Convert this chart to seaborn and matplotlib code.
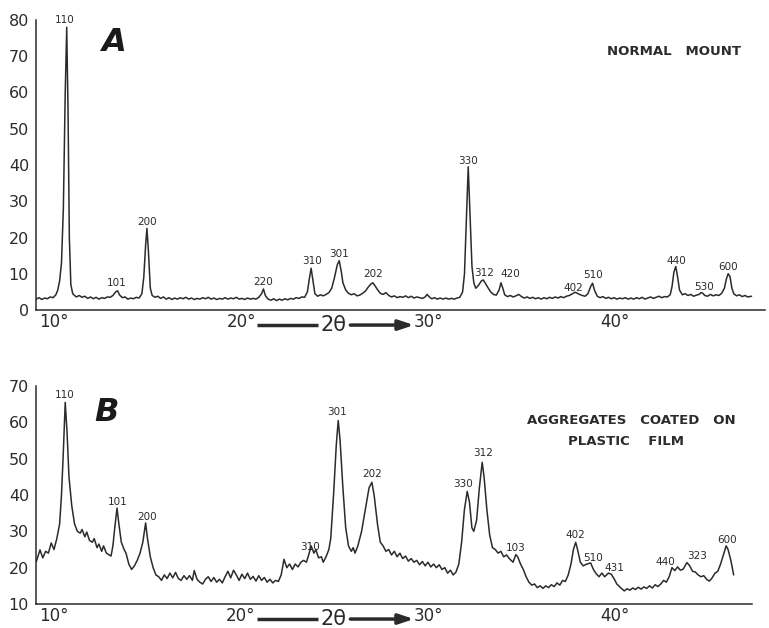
import matplotlib
matplotlib.use("Agg")
import matplotlib.pyplot as plt
import seaborn as sns
import pandas as pd

# ---------------- data ----------------
# Panel A : normal mount  (2-theta in degrees, intensity)
a_theta = [9.05, 9.2, 9.35, 9.5, 9.65, 9.8, 9.95, 10.1, 10.2, 10.3, 10.4, 10.5, 10.6, 10.68, 10.75, 10.82, 10.9,
           11.0, 11.1, 11.2, 11.35, 11.5, 11.65, 11.8, 11.95, 12.1, 12.25, 12.4, 12.55, 12.7, 12.85, 13.0, 13.15,
           13.3, 13.4, 13.5, 13.65, 13.8, 13.95, 14.1, 14.25, 14.4, 14.55, 14.7, 14.8, 14.9, 14.97, 15.05, 15.15,
           15.25, 15.4, 15.55, 15.7, 15.85, 16.0, 16.15, 16.3, 16.45, 16.6, 16.75, 16.9, 17.05, 17.2, 17.35, 17.5,
           17.65, 17.8, 17.95, 18.1, 18.25, 18.4, 18.55, 18.7, 18.85, 19.0, 19.15, 19.3, 19.45, 19.6, 19.75, 19.9,
           20.05, 20.2, 20.35, 20.5, 20.65, 20.8, 20.95, 21.1, 21.2, 21.3, 21.45, 21.6, 21.75, 21.9, 22.05, 22.2,
           22.35, 22.5, 22.65, 22.8, 22.95, 23.1, 23.25, 23.4, 23.55, 23.65, 23.75, 23.85, 23.95, 24.1, 24.25, 24.4,
           24.55, 24.7, 24.85, 25.0, 25.15, 25.25, 25.35, 25.45, 25.6, 25.75, 25.9, 26.05, 26.2, 26.35, 26.5, 26.65,
           26.8, 26.95, 27.05, 27.15, 27.3, 27.45, 27.6, 27.75, 27.9, 28.05, 28.2, 28.35, 28.5, 28.65, 28.8, 28.95,
           29.1, 29.25, 29.4, 29.55, 29.7, 29.85, 29.95, 30.05, 30.2, 30.35, 30.5, 30.65, 30.8, 30.95, 31.1, 31.25,
           31.4, 31.55, 31.7, 31.85, 31.95, 32.05, 32.15, 32.25, 32.35, 32.45, 32.55, 32.7, 32.85, 32.95, 33.05,
           33.2, 33.35, 33.5, 33.65, 33.8, 33.9, 34.0, 34.1, 34.25, 34.4, 34.55, 34.7, 34.85, 35.0, 35.15, 35.3,
           35.45, 35.6, 35.75, 35.9, 36.05, 36.2, 36.35, 36.5, 36.65, 36.8, 36.95, 37.1, 37.25, 37.4, 37.55, 37.7,
           37.85, 37.95, 38.1, 38.25, 38.4, 38.55, 38.7, 38.8, 38.9, 39.05, 39.2, 39.35, 39.5, 39.65, 39.8, 39.95,
           40.1, 40.25, 40.4, 40.55, 40.7, 40.85, 41.0, 41.15, 41.3, 41.45, 41.6, 41.75, 41.9, 42.05, 42.2, 42.35,
           42.5, 42.65, 42.8, 42.95, 43.05, 43.15, 43.25, 43.35, 43.45, 43.6, 43.75, 43.9, 44.05, 44.2, 44.35, 44.5,
           44.6, 44.7, 44.8, 44.95, 45.1, 45.25, 45.4, 45.55, 45.7, 45.85, 45.95, 46.05, 46.15, 46.25, 46.35, 46.5,
           46.65, 46.8, 46.95, 47.1, 47.3]
a_int = [3.0, 3.4, 2.9, 3.3, 3.1, 3.6, 3.4, 4.2, 5.5, 8.0, 13.0, 28.0, 60.0, 78.0, 55.0, 20.0, 7.0,
         4.5, 4.0, 3.6, 4.0, 3.5, 3.8, 3.2, 3.6, 3.1, 3.5, 3.0, 3.4, 3.2, 3.6, 3.5, 4.0,
         5.0, 5.3, 4.2, 3.4, 3.6, 3.0, 3.3, 3.1, 3.5, 3.3, 4.5, 9.0, 18.0, 22.5, 16.0, 6.0,
         4.0, 3.5, 3.8, 3.2, 3.6, 3.0, 3.4, 2.9, 3.3, 3.0, 3.4, 3.1, 3.5, 3.0, 3.3, 2.9,
         3.2, 3.0, 3.4, 3.1, 3.5, 3.0, 3.3, 2.9, 3.2, 3.0, 3.4, 3.0, 3.3, 3.1, 3.5, 3.0,
         3.2, 2.9, 3.3, 3.0, 3.2, 3.0, 3.5, 4.5, 5.8, 4.0, 3.0, 2.7, 3.1, 2.6, 3.0, 2.7,
         3.1, 2.8, 3.2, 3.0, 3.4, 3.2, 3.6, 3.5, 5.0, 8.5, 11.5, 8.0, 4.5, 3.8, 4.2, 3.9,
         4.3, 4.8, 6.0, 9.0, 12.5, 13.6, 11.0, 7.5, 5.5, 4.6, 4.2, 4.5, 3.9, 4.1, 4.6, 5.2,
         6.3, 7.2, 7.5, 6.8, 5.6, 4.6, 4.3, 4.8, 4.0, 3.6, 3.9, 3.4, 3.7, 3.5, 3.9, 3.4,
         3.8, 3.3, 3.6, 3.4, 3.2, 3.6, 4.3, 3.7, 3.1, 3.4, 3.0, 3.3, 3.0, 3.3, 3.0, 3.2,
         3.0, 3.3, 3.5, 5.0, 10.0, 25.0, 39.5, 26.0, 12.0, 7.5, 6.0, 6.8, 8.0, 8.3, 7.5,
         6.2, 5.0, 4.3, 4.1, 5.5, 7.5, 6.0, 4.2, 3.7, 4.0, 3.6, 3.9, 4.3, 3.7, 3.3, 3.6,
         3.2, 3.5, 3.1, 3.4, 3.0, 3.4, 3.1, 3.5, 3.2, 3.6, 3.3, 3.7, 3.4, 3.8, 4.0, 4.4,
         4.9, 4.7, 4.3, 4.0, 3.8, 4.5, 6.5, 7.4, 5.5, 3.8, 3.4, 3.7, 3.2, 3.5, 3.1, 3.4,
         3.0, 3.3, 3.1, 3.4, 3.0, 3.3, 3.0, 3.4, 3.1, 3.5, 3.0, 3.3, 3.6, 3.2, 3.5, 3.8,
         3.4, 3.7, 3.6, 4.2, 6.5, 10.5, 12.0, 9.0, 5.5, 4.2, 4.5, 4.0, 4.3, 3.8, 4.1, 4.3,
         4.8, 4.6, 4.0, 3.8, 4.3, 3.9, 4.2, 4.0, 4.6, 6.0, 8.5, 10.0, 9.2, 6.0, 4.5, 3.9,
         4.2, 3.7, 4.0, 3.6, 3.8]

# Panel B : aggregates coated on plastic film
b_theta = [9.05, 9.25, 9.4, 9.55, 9.7, 9.85, 10.0, 10.15, 10.3, 10.4, 10.5, 10.6, 10.7, 10.8, 10.95, 11.1,
           11.25, 11.4, 11.5, 11.65, 11.75, 11.9, 12.05, 12.15, 12.3, 12.4, 12.55, 12.65, 12.8, 12.95, 13.05,
           13.15, 13.25, 13.37, 13.47, 13.6, 13.75, 13.85, 14.0, 14.15, 14.3, 14.45, 14.6, 14.75, 14.9, 15.0,
           15.15, 15.3, 15.45, 15.6, 15.75, 15.9, 16.05, 16.2, 16.35, 16.5, 16.65, 16.8, 16.95, 17.1, 17.25,
           17.4, 17.5, 17.65, 17.8, 17.95, 18.1, 18.25, 18.4, 18.55, 18.7, 18.85, 19.0, 19.15, 19.3, 19.45,
           19.6, 19.75, 19.9, 20.05, 20.2, 20.35, 20.5, 20.65, 20.8, 20.95, 21.1, 21.25, 21.4, 21.55, 21.7,
           21.85, 22.0, 22.15, 22.3, 22.45, 22.6, 22.75, 22.9, 23.05, 23.2, 23.35, 23.5, 23.65, 23.75, 23.9,
           24.0, 24.15, 24.3, 24.4, 24.55, 24.7, 24.8, 24.95, 25.1, 25.2, 25.3, 25.45, 25.6, 25.75, 25.9,
           26.0, 26.1, 26.25, 26.45, 26.65, 26.85, 27.0, 27.12, 27.3, 27.45, 27.6, 27.75, 27.9, 28.05, 28.2,
           28.35, 28.5, 28.65, 28.8, 28.95, 29.1, 29.25, 29.4, 29.55, 29.7, 29.85, 30.0, 30.15, 30.3, 30.45,
           30.6, 30.75, 30.9, 31.05, 31.2, 31.35, 31.5, 31.65, 31.8, 31.95, 32.1, 32.22, 32.35, 32.45, 32.6,
           32.75, 32.9, 33.0, 33.15, 33.3, 33.45, 33.6, 33.75, 33.9, 34.05, 34.2, 34.35, 34.55, 34.7, 34.8,
           34.95, 35.1, 35.25, 35.4, 35.55, 35.7, 35.85, 36.0, 36.15, 36.3, 36.45, 36.6, 36.75, 36.9, 37.05,
           37.2, 37.35, 37.5, 37.65, 37.78, 37.9, 38.0, 38.15, 38.3, 38.5, 38.7, 38.85, 39.0, 39.15, 39.3,
           39.45, 39.65, 39.8, 39.95, 40.1, 40.3, 40.5, 40.65, 40.8, 40.95, 41.1, 41.25, 41.4, 41.55, 41.7,
           41.85, 42.0, 42.15, 42.3, 42.45, 42.6, 42.75, 42.9, 43.05, 43.2, 43.35, 43.5, 43.65, 43.85, 44.0,
           44.15, 44.3, 44.45, 44.6, 44.75, 44.9, 45.05, 45.2, 45.35, 45.5, 45.65, 45.8, 45.95, 46.05, 46.2,
           46.35]
b_int = [21.6, 24.9, 22.7, 24.5, 24.0, 26.8, 25.0, 28.0, 32.0, 40.0, 52.0, 65.5, 57.0, 45.0, 37.0, 32.0,
         30.0, 29.5, 30.5, 28.5, 29.8, 27.5, 27.0, 28.0, 25.5, 26.5, 24.5, 26.0, 24.0, 23.5, 23.2,
         26.0, 31.0, 36.4, 32.0, 27.0, 25.0, 24.0, 21.0, 19.5, 20.5, 22.0, 24.0, 27.0, 32.3, 28.0,
         23.0, 20.0, 18.0, 17.5, 16.5, 18.0, 17.0, 18.5, 17.2, 18.7, 17.0, 16.5, 17.8, 16.8, 17.8,
         16.5, 19.2, 16.8, 16.0, 15.5, 16.8, 17.5, 16.2, 17.3, 16.0, 16.8, 15.8, 17.5, 19.0, 17.2,
         19.3, 18.0, 16.5, 18.2, 17.0, 18.5, 16.8, 17.6, 16.3, 17.8, 16.5, 17.3, 16.0, 16.8, 15.8,
         16.5, 16.2, 18.0, 22.3, 20.0, 21.0, 19.5, 21.0, 20.2, 21.5, 22.0, 21.5, 24.0, 26.0, 24.0,
         25.0, 22.7, 23.0, 21.5, 23.0, 25.0, 28.0, 40.0, 54.0, 60.5, 55.0, 42.0, 31.0, 26.0, 24.5,
         25.5, 24.0, 26.0, 30.0, 36.0, 42.0, 43.5, 40.0, 32.0, 27.0, 26.0, 24.5, 25.0, 23.5, 24.5,
         23.0, 24.0, 22.5, 23.2, 21.8, 22.5, 21.5, 22.0, 20.8, 21.7, 20.5, 21.5, 20.2, 21.0, 20.0,
         20.8, 19.5, 20.0, 18.5, 19.3, 18.0, 18.8, 21.0, 27.0, 36.0, 41.0, 38.0, 31.0, 30.0, 33.0,
         42.0, 49.0, 45.0, 36.0, 29.0, 25.5, 25.0, 24.0, 24.5, 23.0, 23.5, 22.5, 21.5, 23.6, 23.0,
         21.0, 19.5, 17.5, 16.0, 15.2, 15.5, 14.5, 15.0, 14.3, 15.0, 14.5, 15.3, 14.8, 15.8, 15.2,
         16.5, 16.2, 18.0, 21.0, 25.0, 27.0, 25.0, 21.5, 20.5, 21.0, 21.3, 19.5, 18.3, 17.5, 18.5,
         17.5, 18.5, 18.2, 17.0, 15.5, 14.5, 13.6, 14.2, 13.8, 14.4, 14.0, 14.6, 14.1, 14.7, 14.3,
         15.0, 14.4, 15.3, 14.8, 15.5, 16.5, 16.0, 17.5, 20.0, 19.2, 20.2, 19.3, 19.6, 21.4, 20.5,
         19.0, 18.8, 18.0, 17.5, 17.8, 16.8, 16.3, 17.2, 18.5, 19.0, 21.0, 23.5, 26.0, 25.0, 22.0,
         18.0]

# peak (hkl) labels: text, 2-theta, label height
a_hkl = ["110", "101", "200", "220", "310", "301", "202", "330", "312", "420", "402", "510", "440", "530", "600"]
a_hkl_x = [10.59, 13.37, 14.97, 21.18, 23.8, 25.24, 27.06, 32.14, 33.0, 34.39, 37.75, 38.82, 43.26, 44.76, 46.04]
a_hkl_y = [80.0, 7.4, 24.3, 7.7, 13.5, 15.4, 9.9, 41.1, 10.2, 9.9, 6.1, 9.7, 13.5, 6.3, 11.9]

b_hkl = ["110", "101", "200", "310", "301", "202", "330", "312", "103", "402", "510", "431", "440", "323", "600"]
b_hkl_x = [10.59, 13.42, 14.97, 23.69, 25.13, 27.0, 31.87, 32.94, 34.71, 37.86, 38.82, 39.95, 42.67, 44.39, 45.99]
b_hkl_y = [67.5, 38.1, 33.9, 25.7, 62.8, 45.8, 43.0, 51.6, 25.4, 29.0, 22.7, 19.9, 21.6, 23.2, 27.6]

x_ticks = [10, 15, 20, 25, 30, 35, 40, 45]
x_ticklabels = ["10°", "", "20°", "", "30°", "", "40°", ""]
a_yticks = [0, 10, 20, 30, 40, 50, 60, 70, 80]
b_yticks = [10, 20, 30, 40, 50, 60, 70]

# ---------------- style ----------------
sns.set_style("white")
plt.rcParams["font.family"] = ["DejaVu Sans"]
INK = "#2b2b2b"

W, H = 769, 628
fig = plt.figure(figsize=(W / 100, H / 100), dpi=100)
fig.patch.set_facecolor("white")

axA = fig.add_axes([36 / W, 1 - 310 / H, (765 - 36) / W, 290 / H])
axB = fig.add_axes([36 / W, 1 - 604 / H, (752 - 36) / W, 218 / H])

dfA = pd.DataFrame({"theta": a_theta, "I": a_int})
dfB = pd.DataFrame({"theta": b_theta, "I": b_int})
sns.lineplot(data=dfA, x="theta", y="I", ax=axA, color=INK, lw=1.1, errorbar=None, sort=False)
sns.lineplot(data=dfB, x="theta", y="I", ax=axB, color=INK, lw=1.1, errorbar=None, sort=False)


def style_axis(ax, xlim, ylim, yticks):
    ax.set_xlim(*xlim)
    ax.set_ylim(*ylim)
    ax.set_facecolor("none")
    for s in ("top", "right"):
        ax.spines[s].set_visible(False)
    for s in ("left", "bottom"):
        ax.spines[s].set_color(INK)
        ax.spines[s].set_linewidth(1.1)
    ax.set_xticks(x_ticks)
    ax.set_xticklabels(x_ticklabels)
    ax.set_yticks(yticks)
    ax.set_yticklabels([str(t) for t in yticks])
    ax.tick_params(axis="x", direction="in", length=6, width=1.0, color=INK,
                   labelsize=12, labelcolor=INK, pad=2)
    ax.tick_params(axis="y", direction="out", length=5, width=1.0, color=INK,
                   labelsize=11.5, labelcolor=INK, pad=0)
    ax.set_xlabel("")
    ax.set_ylabel("")


style_axis(axA, (9.037, 48.02), (0, 80), a_yticks)
style_axis(axB, (9.037, 47.33), (10, 70), b_yticks)

for ax, names, xs, ys in ((axA, a_hkl, a_hkl_x, a_hkl_y), (axB, b_hkl, b_hkl_x, b_hkl_y)):
    for n, x, y in zip(names, xs, ys):
        ax.text(x, y, n, fontsize=7.5, color=INK, ha="center", va="center")

# panel letters
axA.text(13.2, 73.9, "A", fontsize=23, fontweight="heavy", fontstyle="italic",
         color="#1a1a1a", ha="center", va="center")
axB.text(12.83, 62.8, "B", fontsize=23, fontweight="heavy", fontstyle="italic",
         color="#1a1a1a", ha="center", va="center")

axA.text(43.15, 71.2, "NORMAL   MOUNT", fontsize=9.5, fontweight="semibold", color=INK,
         ha="center", va="center")
axB.text(40.9, 60.4, "AGGREGATES   COATED   ON", fontsize=9.5, fontweight="semibold", color=INK,
         ha="center", va="center")
axB.text(40.6, 54.6, "PLASTIC    FILM", fontsize=9.5, fontweight="semibold", color=INK,
         ha="center", va="center")

# 2-theta arrow between 20 and 30 degrees
for ax in (axA, axB):
    tr = ax.get_xaxis_transform()
    yy = -0.052 if ax is axA else -0.069
    ax.plot([20.85, 24.1], [yy, yy], transform=tr, color=INK, lw=2.5, clip_on=False,
            solid_capstyle="butt")
    ax.text(24.97, yy, "2θ", transform=tr, fontsize=15, color=INK, ha="center", va="center")
    ax.annotate("", xy=(29.25, yy), xytext=(25.85, yy), xycoords=tr, textcoords=tr,
                arrowprops=dict(arrowstyle="-|>,head_length=0.9,head_width=0.3",
                                color=INK, lw=2.5, shrinkA=0, shrinkB=0),
                annotation_clip=False)

fig.savefig("out.png", dpi=100, facecolor="white")
